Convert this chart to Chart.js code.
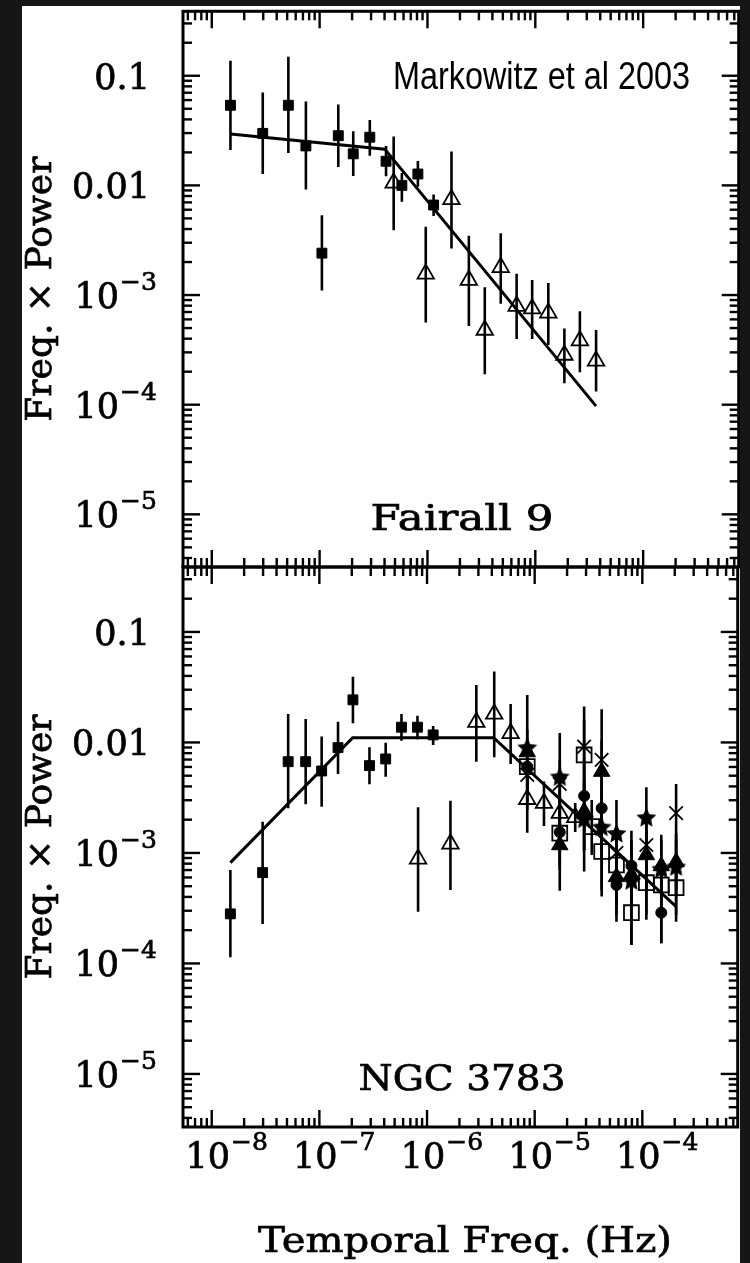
<!DOCTYPE html>
<html>
<head>
<meta charset="utf-8">
<script src="https://cdn.jsdelivr.net/npm/chart.js@4.4.1/dist/chart.umd.min.js"></script>
<style>
  html, body { margin: 0; padding: 0; width: 750px; height: 1263px; overflow: hidden; background: #161616; }
  #paper { position: absolute; left: 22px; top: 6px; width: 718px; height: 1257px; background: #fff; overflow: hidden; }
  #paper canvas { position: absolute; left: -22px; top: -6px; }
</style>
</head>
<body>
<div id="paper">
  <canvas id="topPanel" width="750" height="1263"></canvas>
  <canvas id="bottomPanel" width="750" height="1263"></canvas>
</div>
<script>
// axis limits (Hz and freq x power)
const XMIN = 5.41e-9, XMAX = 7.69e-4;
const YMIN = 3.31e-6, YMAX = 0.387;

const xTickValues = [1e-8, 1e-7, 1e-6, 1e-5, 1e-4];
const xTickLabels = ['10^−8', '10^−7', '10^−6', '10^−5', '10^−4'];
const yTickValues = [0.1, 0.01, 1e-3, 1e-4, 1e-5];
const yTickLabels = ['0.1', '0.01', '10^−3', '10^−4', '10^−5'];

// ---- Fairall 9 ----
const f9SqFreq = [1.49e-8, 2.97e-8, 5.13e-8, 7.46e-8, 1.05e-7, 1.49e-7, 2.05e-7, 2.92e-7, 4.13e-7, 5.79e-7, 8.15e-7, 1.14e-6];
const f9SqPow  = [0.0538, 0.0298, 0.0538, 0.0229, 0.00241, 0.0284, 0.0194, 0.0275, 0.0166, 0.0100, 0.0127, 0.00662];
const f9SqLo   = [0.0210, 0.0127, 0.0197, 0.00916, 0.00110, 0.0147, 0.0122, 0.0186, 0.0121, 0.0071, 0.0097, 0.00526];
const f9SqHi   = [0.137, 0.0702, 0.149, 0.0582, 0.00533, 0.0547, 0.0311, 0.0394, 0.0229, 0.0130, 0.0167, 0.00826];

const f9TriFreq = [4.86e-7, 9.64e-7, 1.67e-6, 2.42e-6, 3.40e-6, 4.78e-6, 6.71e-6, 9.35e-6, 1.32e-5, 1.86e-5, 2.59e-5, 3.66e-5];
const f9TriPow  = [0.01055, 0.00156, 0.00745, 0.00137, 0.00048, 0.00179, 0.000794, 0.000751, 0.000687, 0.000284, 0.000384, 0.000251];
const f9TriLo   = [0.0039, 0.000561, 0.00266, 0.000521, 0.00019, 0.000834, 0.000397, 0.000397, 0.000351, 0.000157, 0.000198, 0.000132];
const f9TriHi   = [0.0279, 0.00419, 0.0204, 0.00347, 0.00118, 0.00366, 0.00156, 0.00137, 0.00129, 0.000495, 0.000711, 0.000479];

const f9ModelFreq = [1.49e-8, 4.02e-7, 3.66e-5];
const f9ModelPow  = [0.0294, 0.0214, 9.7e-5];

// ---- NGC 3783 ----
const n3SqFreq = [1.49e-8, 2.97e-8, 5.13e-8, 7.46e-8, 1.05e-7, 1.49e-7, 2.05e-7, 2.92e-7, 4.13e-7, 5.79e-7, 8.15e-7, 1.14e-6];
const n3SqPow  = [2.81e-4, 6.64e-4, 6.70e-3, 6.70e-3, 5.52e-3, 8.98e-3, 0.0243, 6.17e-3, 7.09e-3, 0.01374, 0.01374, 0.0117];
const n3SqLo   = [1.14e-4, 2.28e-4, 2.54e-3, 2.76e-3, 2.62e-3, 5.19e-3, 0.0149, 4.19e-3, 4.90e-3, 0.01037, 0.0107, 9.48e-3];
const n3SqHi   = [7.01e-4, 1.92e-3, 0.0181, 0.0163, 0.0113, 0.0154, 0.0394, 9.06e-3, 9.95e-3, 0.0181, 0.0174, 0.0141];

const n3TriFreq = [8.26e-7, 1.65e-6, 2.87e-6, 4.21e-6, 5.98e-6, 8.53e-6, 1.22e-5, 1.71e-5, 2.38e-5];
const n3TriPow  = [8.83e-4, 1.21e-3, 0.01524, 0.0181, 0.0121, 3.06e-3, 2.82e-3, 2.29e-3, 2.10e-3];
const n3TriLo   = [2.94e-4, 4.62e-4, 6.70e-3, 7.35e-3, 6.38e-3, 1.52e-3, 1.75e-3, 1.31e-3, 1.55e-3];
const n3TriHi   = [2.59e-3, 2.96e-3, 0.0331, 0.0438, 0.0223, 5.63e-3, 4.42e-3, 3.72e-3, 2.83e-3];

// high-frequency points from the other instruments share these frequencies
const n3HiFreq = [8.53e-6, 1.71e-5, 2.88e-5, 4.19e-5, 5.75e-5, 7.92e-5, 1.09e-4, 1.50e-4, 2.06e-4];

const n3StarPow = [9.16e-3, 4.98e-3, 2.07e-3, 1.75e-3, 1.53e-3, 5.70e-4, 2.13e-3, 7.28e-4, 7.63e-4];
const n3StarLo  = [2.45e-3, 1.18e-3, 1.06e-3, 8.65e-4, 2.39e-4, 1.47e-4, 2.48e-4, 1.52e-4, 2.39e-4];
const n3StarHi  = [0.0269, 0.0122, 3.72e-3, 3.35e-3, 3.02e-3, 1.59e-3, 3.93e-3, 1.46e-3, 1.50e-3];

const n3CrossPow = [5.08e-3, 4.21e-3, 9.16e-3, 6.95e-3, 1.0e-3, null, 1.18e-3, null, 2.29e-3];
const n3CrossLo  = [2.72e-3, 2.21e-3, 3.02e-3, 4.03e-4, 5.70e-4, null, 7.01e-4, null, 4.62e-4];
const n3CrossHi  = [8.55e-3, 6.95e-3, 0.0211, 0.0200, 1.61e-3, null, 1.99e-3, null, 4.21e-3];

const n3FTriPow = [8.20e-3, 1.18e-3, 2.37e-3, 5.45e-3, 6.07e-4, 6.32e-4, 9.59e-4, 7.63e-4, 8.30e-4];
const n3FTriLo  = [4.58e-3, 4.56e-4, 6.78e-4, 1.61e-3, 3.38e-4, 3.38e-4, 4.62e-4, 3.76e-4, 4.17e-4];
const n3FTriHi  = [0.0130, 2.21e-3, 4.58e-3, 0.01055, 1.06e-3, 1.06e-3, 1.61e-3, 1.31e-3, 1.31e-3];

const n3DotPow = [6.04e-3, 1.54e-3, 3.28e-3, 2.54e-3, 5.13e-4, 7.67e-4, null, 2.88e-4, null];
const n3DotLo  = [3.72e-3, 7.01e-4, 1.06e-3, 8.65e-4, 2.75e-4, 3.76e-4, null, 1.52e-4, null];
const n3DotHi  = [9.48e-3, 3.02e-3, 6.95e-3, 4.58e-3, 9.59e-4, 1.31e-3, null, 5.70e-4, null];

const n3BoxFreq = [8.53e-6, 1.71e-5, 2.88e-5, 3.39e-5, 4.19e-5, 5.75e-5, 7.92e-5, 1.09e-4, 1.50e-4, 2.06e-4];
const n3BoxPow  = [6.04e-3, 1.51e-3, 7.71e-3, 1.73e-3, 1.03e-3, 7.78e-4, 2.88e-4, 5.38e-4, 5.13e-4, 4.85e-4];
const n3BoxLo   = [3.35e-3, 7.78e-4, 3.72e-3, 9.59e-4, 4.62e-4, 3.76e-4, 1.47e-4, 2.75e-4, 3.05e-4, 2.75e-4];
const n3BoxHi   = [9.48e-3, 2.72e-3, 0.0160, 3.02e-3, 1.99e-3, 1.31e-3, 5.70e-4, 1.06e-3, 8.65e-4, 8.65e-4];

const n3ModelFreq = [1.49e-8, 2.04e-7, 4.15e-6, 2.06e-4];
const n3ModelPow  = [8.17e-4, 0.01104, 0.01104, 3.27e-4];

const SERIF = '"DejaVu Serif", "Liberation Serif", serif';

function points(freq, pow, lo, hi) {
  const out = [];
  freq.forEach((f, i) => {
    if (pow[i] == null) return;
    out.push({ x: f, y: pow[i], lo: lo ? lo[i] : null, hi: hi ? hi[i] : null });
  });
  return out;
}

function starImage(size) {
  const c = document.createElement('canvas');
  c.width = c.height = size;
  const g = c.getContext('2d');
  const r = size / 2, ri = r * 0.48;
  g.beginPath();
  for (let i = 0; i < 10; i++) {
    const a = -Math.PI / 2 + i * Math.PI / 5;
    const rr = i % 2 ? ri : r;
    g.lineTo(r + rr * Math.cos(a), r + 1.5 + rr * Math.sin(a));
  }
  g.closePath();
  g.fillStyle = '#000';
  g.fill();
  return c;
}

function marker(data, style, radius, filled) {
  return {
    data: data,
    errorBars: true,
    pointStyle: style,
    pointRadius: radius,
    pointBackgroundColor: filled ? '#000' : 'rgba(0,0,0,0)',
    pointBorderColor: '#000',
    pointBorderWidth: filled ? 1 : 1.8,
    showLine: false
  };
}

function model(freq, pow) {
  return {
    data: points(freq, pow),
    showLine: true,
    borderColor: '#000',
    borderWidth: 3,
    pointRadius: 0,
    tension: 0
  };
}

const errorBars = {
  id: 'errorBars',
  beforeDatasetsDraw(chart) {
    const { ctx, chartArea: a, scales: { x, y } } = chart;
    ctx.save();
    ctx.beginPath();
    ctx.rect(a.left, a.top, a.right - a.left, a.bottom - a.top);
    ctx.clip();
    ctx.strokeStyle = '#000';
    ctx.lineWidth = 2.6;
    chart.data.datasets.forEach(ds => {
      if (!ds.errorBars) return;
      ds.data.forEach(p => {
        if (p.lo == null) return;
        const px = x.getPixelForValue(p.x);
        ctx.beginPath();
        ctx.moveTo(px, y.getPixelForValue(p.lo));
        ctx.lineTo(px, y.getPixelForValue(p.hi));
        ctx.stroke();
      });
    });
    ctx.restore();
  }
};

// text with a thin outline so it reads as heavy as the plotting-package font
function heavyText(ctx, str, x, y) {
  ctx.fillText(str, x, y);
  ctx.lineWidth = 0.7;
  ctx.strokeText(str, x, y);
}

function fitText(ctx, str, x, y, font, width, align, heavy) {
  ctx.save();
  ctx.font = font;
  const w = ctx.measureText(str).width;
  const s = width ? width / w : 1;
  ctx.translate(x, y);
  ctx.scale(s, 1);
  ctx.textAlign = align || 'left';
  ctx.textBaseline = 'alphabetic';
  if (heavy) heavyText(ctx, str, 0, 0); else ctx.fillText(str, 0, 0);
  ctx.restore();
}

// draws "10^-n" : base "10" then superscript
function powLabel(ctx, label, baseX, baseY, mode) {
  const [base, exp] = label.split('^');
  ctx.save();
  ctx.font = '35px ' + SERIF;
  const wb = ctx.measureText(base).width;
  const left = mode === 'center' ? baseX - wb / 2 - 4 : baseX - wb;
  ctx.textAlign = 'left';
  heavyText(ctx, base, left, baseY);
  ctx.font = '25px ' + SERIF;
  heavyText(ctx, exp, left + wb + 1, baseY - 18);
  ctx.restore();
}

function axesPlugin(panel) {
  return {
    id: 'axes',
    afterDraw(chart) {
      const { ctx, chartArea: a, scales: { x, y } } = chart;
      const line = (x1, y1, x2, y2) => { ctx.beginPath(); ctx.moveTo(x1, y1); ctx.lineTo(x2, y2); ctx.stroke(); };
      ctx.save();
      ctx.strokeStyle = '#000';
      ctx.fillStyle = '#000';
      ctx.lineWidth = 3;
      ctx.strokeRect(a.left, a.top, a.right - a.left, a.bottom - a.top);
      ctx.lineWidth = 2.4;
      for (let d = -9; d <= -3; d++) {
        for (let k = 1; k <= 9; k++) {
          const v = k * Math.pow(10, d);
          if (v < XMIN || v > XMAX) continue;
          const px = x.getPixelForValue(v);
          const len = k === 1 ? 17 : 9;
          line(px, a.top, px, a.top + len);
          line(px, a.bottom, px, a.bottom - len);
        }
      }
      for (let d = -6; d <= 0; d++) {
        for (let k = 1; k <= 9; k++) {
          const v = k * Math.pow(10, d);
          if (v < YMIN || v > YMAX) continue;
          const py = y.getPixelForValue(v);
          const len = k === 1 ? 17 : 9;
          line(a.left, py, a.left + len, py);
          line(a.right, py, a.right - len, py);
        }
      }

      // y tick labels
      yTickValues.forEach((v, i) => {
        const py = y.getPixelForValue(v);
        const lab = yTickLabels[i];
        if (lab.includes('^')) {
          powLabel(ctx, lab, a.left - 64, py + 13, 'right');
        } else {
          ctx.font = '35px ' + SERIF;
          ctx.textAlign = 'right';
          heavyText(ctx, lab, a.left - 33, py + 13);
        }
      });

      // y axis title
      ctx.save();
      ctx.translate(51, (a.top + a.bottom) / 2);
      ctx.rotate(-Math.PI / 2);
      fitText(ctx, 'Freq. × Power', 0, 0, '36px ' + SERIF, 265, 'center', true);
      ctx.restore();

      // object name
      fitText(ctx, panel.name, 462, a.bottom - 37, '35px ' + SERIF, panel.nameWidth, 'center', true);

      if (panel.note) {
        fitText(ctx, panel.note, 393, 89, '38px "Liberation Sans Narrow", "Liberation Sans", sans-serif', 297, 'left', false);
      }

      if (panel.xLabels) {
        xTickValues.forEach((v, i) => {
          powLabel(ctx, xTickLabels[i], x.getPixelForValue(v), 1168, 'center');
        });
        fitText(ctx, 'Temporal Freq. (Hz)', 465, 1252, '36px ' + SERIF, 414, 'center', true);
      }
      ctx.restore();
    }
  };
}

function makePanel(id, top, bottom, datasets, panel) {
  return new Chart(document.getElementById(id), {
    type: 'scatter',
    data: { datasets: datasets },
    options: {
      responsive: false,
      animation: false,
      layout: { padding: { left: 183, right: 8, top: top, bottom: 1263 - bottom } },
      scales: {
        x: { type: 'logarithmic', min: XMIN, max: XMAX, display: false },
        y: { type: 'logarithmic', min: YMIN, max: YMAX, display: false }
      },
      plugins: { legend: { display: false }, tooltip: { enabled: false } }
    },
    plugins: [errorBars, axesPlugin(panel)]
  });
}

const star = starImage(21);

makePanel('topPanel', 7, 567, [
  model(f9ModelFreq, f9ModelPow),
  marker(points(f9SqFreq, f9SqPow, f9SqLo, f9SqHi), 'rect', 7, true),
  marker(points(f9TriFreq, f9TriPow, f9TriLo, f9TriHi), 'triangle', 9.5, false)
], { name: 'Fairall 9', nameWidth: 183, note: 'Markowitz et al 2003' });

makePanel('bottomPanel', 567, 1127, [
  model(n3ModelFreq, n3ModelPow),
  marker(points(n3SqFreq, n3SqPow, n3SqLo, n3SqHi), 'rect', 7, true),
  marker(points(n3TriFreq, n3TriPow, n3TriLo, n3TriHi), 'triangle', 9.5, false),
  marker(points(n3BoxFreq, n3BoxPow, n3BoxLo, n3BoxHi), 'rect', 10.5, false),
  marker(points(n3HiFreq, n3CrossPow, n3CrossLo, n3CrossHi), 'crossRot', 9.5, false),
  marker(points(n3HiFreq, n3DotPow, n3DotLo, n3DotHi), 'circle', 5.5, true),
  marker(points(n3HiFreq, n3FTriPow, n3FTriLo, n3FTriHi), 'triangle', 9.5, true),
  marker(points(n3HiFreq, n3StarPow, n3StarLo, n3StarHi), star, 10, true)
], { name: 'NGC 3783', nameWidth: 207, xLabels: true });
</script>
</body>
</html>
